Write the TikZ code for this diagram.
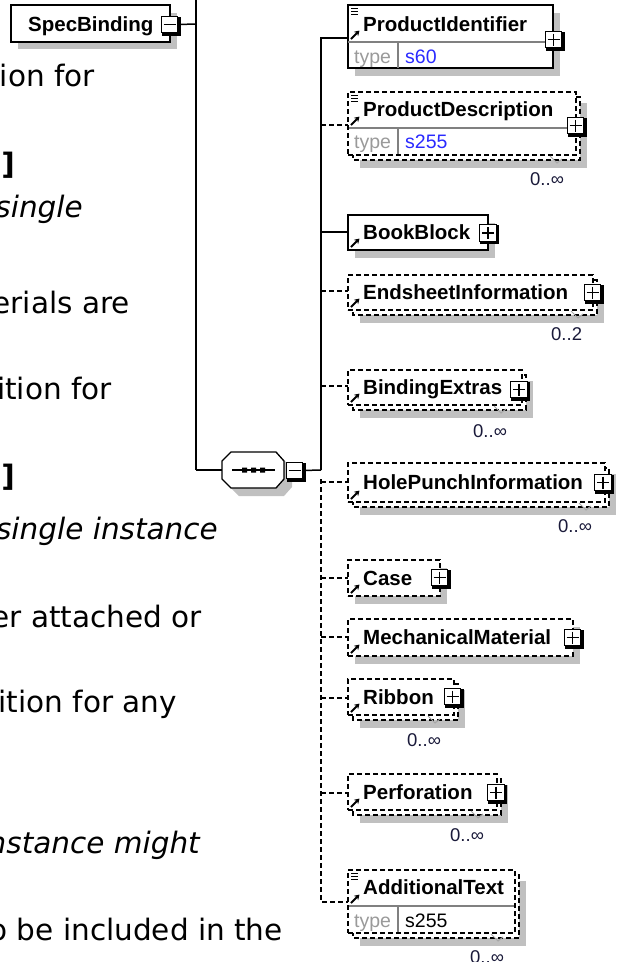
\documentclass[tikz,border=0pt]{standalone}
\usepackage{fontspec}
\setmainfont{DejaVu Sans}
\newfontfamily\xsfont{Liberation Sans}
\usetikzlibrary{arrows.meta}
\definecolor{shadowgrey}{HTML}{C0C0C0}
\definecolor{typegrey}{HTML}{9A9A9A}
\definecolor{sepgrey}{HTML}{808080}
\definecolor{typeblue}{HTML}{2A2AFF}
\definecolor{occcol}{HTML}{1A1A3A}
\newcommand\xelem[7]{%
  \ifnum#7=1
    \fill[shadowgrey] ({#2+12},{#3+11}) rectangle ({#4+11},{#5+13});
    \draw[line width=1.3pt, dbox, fill=white] ({#2+5},{#3+5}) rectangle ({#4+4},{#5+5});
  \else
    \fill[shadowgrey] ({#2+7},{#3+8}) rectangle ({#4+7},{#5+8});
  \fi
  \node[elbox,#6,minimum width={#4-#2},minimum height={#5-#3},anchor=north west] (#1) at (#2,#3) {};
}
\newcommand\xplus[3]{%
  \fill ({#2-8.5},{#3-8.5}) rectangle ({#2+10.5},{#3+10.5});
  \node[draw, line width=1.1pt, fill=white, minimum size=16.5pt, inner sep=0pt, outer sep=0pt] (#1) at ({#2-0.5},{#3-0.5}) {};
  \draw[line width=1.2pt] ({#2-6.5},{#3-0.5}) -- ({#2+5.5},{#3-0.5}) ({#2-0.5},{#3-6.5}) -- ({#2-0.5},{#3+5.5});
}
\newcommand\xminus[3]{%
  \fill ({#2-8.5},{#3-8.5}) rectangle ({#2+10.5},{#3+10.5});
  \node[draw, line width=1.1pt, fill=white, minimum size=16.5pt, inner sep=0pt, outer sep=0pt] (#1) at ({#2-0.5},{#3-0.5}) {};
  \draw[line width=1.2pt] ({#2-6.5},{#3-0.5}) -- ({#2+5.5},{#3-0.5});
}
\newcommand\xarr[2]{\draw[line width=1.8pt,-{Stealth[length=5pt,width=6pt]}] ({#1+3},{#2-3}) -- ({#1+11.5},{#2-11.5});}
\newcommand\xlines[2]{\draw[line width=0.9pt] ({#1+3},{#2+3.5}) -- ({#1+10},{#2+3.5}) ({#1+3},{#2+6.5}) -- ({#1+10},{#2+6.5}) ({#1+3},{#2+9.5}) -- ({#1+10},{#2+9.5});}
\newcommand\xnotch[2]{\draw[line width=1pt, black!35] ({#1-7},{#2-4}) -- ({#1},{#2+3}) -- ({#1+5},{#2-1});}
\begin{document}
\begin{tikzpicture}[x=1pt,y=-1pt]
\tikzset{
  conn/.style={line width=1.5pt},
  dconn/.style={line width=1.4pt, dash pattern=on 5pt off 3pt},
  dbox/.style={dash pattern=on 5pt off 3pt},
  elbox/.style={draw, line width=1.3pt, fill=white, inner sep=0pt, outer sep=0pt, rectangle},
  ename/.style={font=\xsfont\bfseries\fontsize{20.5}{20.5}\selectfont, anchor=base west, inner sep=0pt},
  typel/.style={font=\xsfont\fontsize{19.5}{20}\selectfont, text=typegrey, anchor=base west, inner sep=0pt},
  typev/.style={font=\xsfont\fontsize{19.5}{20}\selectfont, text=typeblue, anchor=base west, inner sep=0pt},
  occ/.style={font=\xsfont\fontsize{18.5}{18.5}\selectfont, text=occcol, anchor=base west, inner sep=0pt},
  sep/.style={line width=1.1pt, draw=sepgrey},
  ltext/.style={font=\fontsize{29.5}{30}\selectfont, anchor=base east, inner sep=0pt},
  litext/.style={font=\itshape\fontsize{29.5}{30}\selectfont, anchor=base east, inner sep=0pt},
  lbtext/.style={font=\bfseries\fontsize{29.5}{30}\selectfont, anchor=base east, inner sep=0pt},
}
\useasboundingbox (0,0) rectangle (619,962);
\clip (0,0) rectangle (619,962);
\fill[white] (0,0) rectangle (619,962);

% ---------- left text ----------
\node[ltext] (l1) at (95,86) {ion for};
\node[lbtext] (l2) at (15,174) {]};
\node[litext] (l3) at (83,217) {single};
\node[ltext] (l4) at (130,313) {erials are};
\node[ltext] (l5) at (112,399) {ition for};
\node[lbtext] (l6) at (15,486) {]};
\node[litext] (l7) at (218,539) {single instance};
\node[ltext] (l8) at (202,627) {er attached or};
\node[ltext] (l9) at (177,712) {ition for any};
\node[litext] (l10) at (200,853) {nstance might};
\node[ltext] (l11) at (283,940) {o be included in the};

% ---------- SpecBinding ----------
\fill[shadowgrey] (18,13) rectangle (177,49);
\node[elbox, minimum width=159pt, minimum height=37pt, anchor=north west] (sb) at (11,5) {};
\node[ename] (sbt) at (28,31) {SpecBinding};
\xminus{sbminus}{170}{25}
\coordinate (trunktop) at (196,-5);
\coordinate (trunk) at (196,24);
\coordinate (trunkbot) at (196,470);
\draw[conn] (sbminus.east) -- (trunk);
\draw[conn] (trunktop) -- (trunkbot);

% ---------- sequence compositor ----------
\fill[shadowgrey] (239,460) -- (284,460) -- (292,469) -- (292,487) -- (284,496) -- (239,496) -- (230,487) -- (230,469) -- cycle;
\draw[line width=1.3pt, fill=white] (231,452) -- (276,452) -- (284,461) -- (284,479) -- (276,488) -- (231,488) -- (222,479) -- (222,461) -- cycle;
\node[inner sep=0pt, minimum width=62pt, minimum height=36pt] (seq) at (253,470) {};
\draw[line width=1.3pt] (232,470) -- (275,470);
\fill (242,467.5) rectangle (247,472.5) (251,467.5) rectangle (256,472.5) (260,467.5) rectangle (265,472.5);
\xminus{seqminus}{295}{471}
\draw[conn] (trunkbot) -- (seq.west);
\coordinate (junc) at (321,470);
\coordinate (jdash) at (321,479);
\draw[conn] (seqminus.east) -- (junc);

% ---------- children ----------
% ProductIdentifier
\xelem{pid}{348}{5}{553}{68}{}{0}
\draw[sep] (348,42) -- (553,42) (398,42) -- (398,68);
\node[ename] (pidt) at (363,31) {ProductIdentifier};
\node[typel] at (354,63) {type};
\node[typev] at (405,63) {s60};
\xlines{348}{5}
\xarr{348}{42}
\xplus{pidp}{554}{40}

% ProductDescription
\xelem{pdesc}{348}{92}{576}{155}{dbox}{1}
\draw[sep] (349,128) -- (575,128) (398,128) -- (398,154);
\node[ename] (pdesct) at (363,116) {ProductDescription};
\node[typel] at (354,148) {type};
\node[typev] at (405,148) {s255};
\xlines{348}{92}
\xarr{348}{128}
\xplus{pdescp}{576}{126}
\xnotch{557}{160}
\node[occ] at (530,185) {0..∞};

% BookBlock
\xelem{bb}{348}{215}{488}{250}{}{0}
\node[ename] (bbt) at (363,239) {BookBlock};
\xarr{348}{250}
\xplus{bbp}{488.5}{233.5}

% EndsheetInformation
\xelem{es}{348}{275}{593}{310}{dbox}{1}
\node[ename] (est) at (363,299) {EndsheetInformation};
\xarr{348}{310}
\xplus{esp}{593}{293}
\xnotch{578}{315}
\node[occ] at (551,340) {0..2};

% BindingExtras
\xelem{be}{348}{370}{522}{405}{dbox}{1}
\node[ename] (bet) at (363,394) {BindingExtras};
\xarr{348}{405}
\xplus{bep}{519.5}{390}
\xnotch{501}{410}
\node[occ] at (473,437) {0..∞};

% HolePunchInformation
\xelem{hp}{348}{463}{605}{502}{dbox}{1}
\node[ename] (hpt) at (363,489) {HolePunchInformation};
\xarr{348}{502}
\xplus{hpp}{603.5}{483}
\xnotch{586}{507}
\node[occ] at (558,532) {0..∞};

% Case
\xelem{cs}{348}{560}{440}{596}{dbox}{0}
\node[ename] (cst) at (363,585) {Case};
\xarr{348}{596}
\xplus{csp}{440}{578}

% MechanicalMaterial
\xelem{mm}{348}{619}{573}{656}{dbox}{0}
\node[ename] (mmt) at (363,644) {MechanicalMaterial};
\xarr{348}{656}
\xplus{mmp}{573}{638}

% Ribbon
\xelem{rb}{348}{679}{454}{715}{dbox}{1}
\node[ename] (rbt) at (363,704) {Ribbon};
\xarr{348}{715}
\xplus{rbp}{453}{697}
\xnotch{435}{720}
\node[occ] at (407,746) {0..∞};

% Perforation
\xelem{pf}{348}{774}{497}{810}{dbox}{1}
\node[ename] (pft) at (363,799) {Perforation};
\xarr{348}{810}
\xplus{pfp}{496.5}{793}
\xnotch{478}{815}
\node[occ] at (450,841) {0..∞};

% AdditionalText
\xelem{at}{348}{870}{515}{933}{dbox}{1}
\draw[sep] (349,906) -- (514,906) (398,906) -- (398,932);
\node[ename] (att) at (363,894) {AdditionalText};
\node[typel] at (354,927) {type};
\node[typel, text=black] at (405,927) {s255};
\xlines{348}{870}
\xarr{348}{906}
\xnotch{498}{938}
\node[occ] at (470,963) {0..∞};

% ---------- connectors ----------
\coordinate (jpid) at (321,38);
\coordinate (jpdesc) at (321,125);
\coordinate (jbb) at (321,232);
\coordinate (jes) at (321,291);
\coordinate (jbe) at (321,386);
\coordinate (jhp) at (321,482);
\coordinate (jcs) at (321,578);
\coordinate (jmm) at (321,637);
\coordinate (jrb) at (321,698);
\coordinate (jpf) at (321,793);
\coordinate (jat) at (321,902);
\draw[conn] (jpid -| pid.west) -- (jpid) -- (junc);
\draw[conn] (jbb) -- (jbb -| bb.west);
\draw[dconn] (jdash) -- (jat) -- (jat -| at.west);
\draw[dconn] (jpdesc) -- (jpdesc -| pdesc.west);
\draw[dconn] (jes) -- (jes -| es.west);
\draw[dconn] (jbe) -- (jbe -| be.west);
\draw[dconn] (jhp) -- (jhp -| hp.west);
\draw[dconn] (jcs) -- (jcs -| cs.west);
\draw[dconn] (jmm) -- (jmm -| mm.west);
\draw[dconn] (jrb) -- (jrb -| rb.west);
\draw[dconn] (jpf) -- (jpf -| pf.west);
\end{tikzpicture}
\end{document}
